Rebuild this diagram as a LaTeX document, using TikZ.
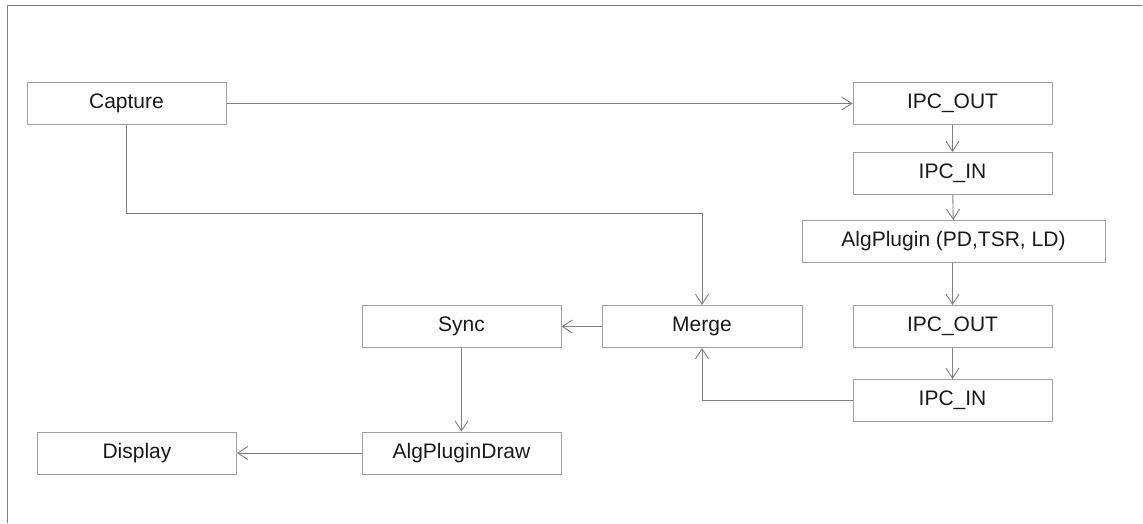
\documentclass[tikz,border=0pt]{standalone}
\usepackage{fontspec}
\setmainfont{Liberation Sans}
\usetikzlibrary{arrows.meta}
\definecolor{boxgray}{HTML}{A0A0A0}
\definecolor{linegray}{HTML}{808080}
\definecolor{txt}{HTML}{1A1A1A}
\tikzset{
  blk/.style={draw=boxgray, line width=1pt, fill=white, minimum width=199pt, minimum height=42pt,
    inner sep=0pt, text=txt, font=\fontsize{21}{25}\selectfont},
  conn/.style={draw=linegray, line width=0.9pt, -{Straight Barb[length=10pt,width=13pt,line width=0.9pt]}},
}
\begin{document}
\begin{tikzpicture}[x=1pt,y=-1pt]
\useasboundingbox (0,0) rectangle (1143,523);
\fill[white] (0,0) rectangle (1143,523);
\draw[linegray, line width=1pt] (1142,5) -- (7,5) -- (7,523);
\node[blk] (capture) at (126.5,103.5) {Capture};
\node[blk] (ipcout1) at (952.5,103.5) {IPC\_OUT};
\node[blk] (ipcin1) at (952.5,173.5) {IPC\_IN};
\node[blk, minimum width=303pt] (alg) at (953.5,241.5) {AlgPlugin (PD,TSR, LD)};
\node[blk, minimum width=200pt] (merge) at (702,326.5) {Merge};
\node[blk] (sync) at (461.5,326.5) {Sync};
\node[blk] (ipcout2) at (952.5,326.5) {IPC\_OUT};
\node[blk] (ipcin2) at (952.5,400.5) {IPC\_IN};
\node[blk] (display) at (137,453) {Display};
\node[blk] (draw) at (461.5,453) {AlgPluginDraw};
\coordinate (c1) at (126,213);
\coordinate (c2) at (702,213);
\coordinate (c3) at (702,400.5);
\draw[conn] (capture.east) -- (ipcout1.west);
\draw[conn] (ipcout1) -- (ipcin1);
\draw[conn] (ipcin1) -- (alg);
\draw[conn] (alg.south -| ipcout2.north) -- (ipcout2.north);
\draw[conn] (ipcout2) -- (ipcin2);
\draw[conn] (capture.south -| c1) -- (c1) -- (c2) -- (merge.north);
\draw[conn] (ipcin2.west) -- (c3) -- (merge.south);
\draw[conn] (merge.west) -- (sync.east);
\draw[conn] (sync) -- (draw);
\draw[conn] (draw.west) -- (display.east);
\end{tikzpicture}
\end{document}
